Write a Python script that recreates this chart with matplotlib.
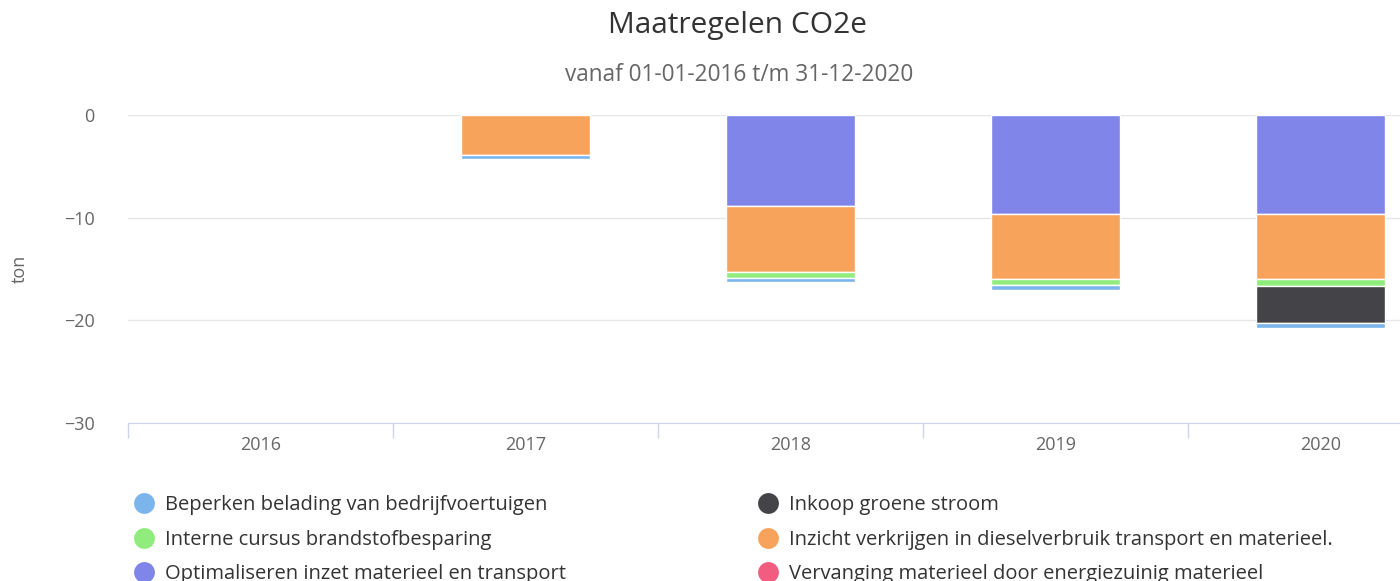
import numpy as np
import matplotlib.pyplot as plt
from matplotlib.lines import Line2D

plt.rcParams['font.family'] = ['Open Sans', 'DejaVu Sans']

years = ['2016', '2017', '2018', '2019', '2020']

# values in ton CO2e (negative = reduction)
beperken = [0, -0.35, -0.45, -0.45, -0.4]
inkoop = [0, 0, 0, 0, -3.6]
interne = [0, 0, -0.55, -0.6, -0.7]
inzicht = [0, -3.9, -6.4, -6.4, -6.4]
optimaliseren = [0, 0, -8.9, -9.6, -9.6]
vervanging = [0, 0, 0, 0, 0]

series = [
    ('Beperken belading van bedrijfvoertuigen', beperken, '#7cb5ec'),
    ('Inkoop groene stroom', inkoop, '#434348'),
    ('Interne cursus brandstofbesparing', interne, '#90ed7d'),
    ('Inzicht verkrijgen in dieselverbruik transport en materieel.', inzicht, '#f7a35c'),
    ('Optimaliseren inzet materieel en transport', optimaliseren, '#8085e9'),
    ('Vervanging materieel door energiezuinig materieel', vervanging, '#f15c80'),
]

W, H = 1400, 581
fig = plt.figure(figsize=(14, 5.81), dpi=100)
# plot area runs past the right edge, as in the cropped screenshot
ax = fig.add_axes([128 / W, 1 - 423 / H, 1325 / W, 308 / H])

x = np.arange(len(years))
bottom = np.zeros(len(years))
# highcharts stacks the last series nearest to zero
for name, vals, col in reversed(series):
    vals = np.array(vals, dtype=float)
    nz = vals != 0
    ax.bar(x[nz], vals[nz], width=0.485, bottom=bottom[nz], color=col,
           edgecolor='white', linewidth=1, zorder=3)
    bottom += vals

ax.set_xlim(-0.5, 4.5)
ax.set_ylim(-30, 0)
ax.set_yticks([0, -10, -20, -30])
ax.set_yticklabels(['0', '−10', '−20', '−30'])
ax.set_xticks(x)
ax.set_xticklabels(years)
ax.set_xticks(np.arange(-0.5, 5, 1), minor=True)
ax.tick_params(axis='y', length=0, pad=24, labelsize=13, labelcolor='#666666')
ax.tick_params(axis='x', which='major', length=0, pad=9, labelsize=13, labelcolor='#666666')
ax.tick_params(axis='x', which='minor', length=11, color='#ccd6eb', width=1)
ax.grid(axis='y', color='#e6e6e6', linewidth=1, zorder=0)
for s in ['top', 'right', 'left']:
    ax.spines[s].set_visible(False)
ax.spines['bottom'].set_color('#ccd6eb')
ax.set_ylabel('ton', color='#666666', fontsize=13, labelpad=25)

fig.text(738 / W, 1 - 26 / H, 'Maatregelen CO2e', ha='center', va='center',
         fontsize=21.5, color='#333333')
fig.text(739 / W, 1 - 75 / H, 'vanaf 01-01-2016 t/m 31-12-2020', ha='center',
         va='center', fontsize=16.3, color='#666666')

# legend, row-major in two columns
order = [0, 2, 4, 1, 3, 5]
handles = [Line2D([], [], marker='o', linestyle='', markersize=15,
                  markerfacecolor=series[i][2], markeredgewidth=0) for i in order]
labels = [series[i][0] for i in order]
fig.legend(handles, labels, ncol=2, loc='upper left',
           bbox_to_anchor=(122 / W, 1 - 485 / H), frameon=False,
           fontsize=14.5, labelcolor='#333333', handletextpad=0.45,
           columnspacing=9.4, labelspacing=0.72, borderpad=0, handlelength=1.2)

fig.savefig('out.png', dpi=100)
